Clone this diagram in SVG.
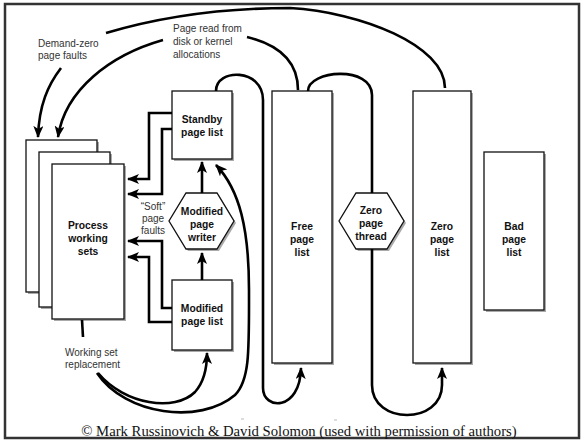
<svg xmlns="http://www.w3.org/2000/svg" width="582" height="441" viewBox="0 0 582 441">
<style>
.box{fill:#fff;stroke:#111;stroke-width:1.3}
.sh{fill:#aaa}
.lbl{font-family:"Liberation Sans",Arial,sans-serif;font-size:10.3px;font-weight:bold;fill:#111;text-anchor:middle}
.note{font-family:"Liberation Sans",Arial,sans-serif;font-size:10px;fill:#333}
.c{fill:none;stroke:#000;stroke-width:2.6}
.a{marker-end:url(#ah)}
</style>
<defs>
<marker id="ah" viewBox="0 0 12 10" refX="11" refY="5" markerWidth="12" markerHeight="10" markerUnits="userSpaceOnUse" orient="auto">
<path d="M0,0 L12,5 L0,10 L3,5 z" fill="#000"/>
</marker>
</defs>
<rect x="0" y="0" width="582" height="441" fill="#fff"/>
<rect x="5" y="4" width="574" height="434" fill="none" stroke="#333" stroke-width="2.5"/>

<g id="process-working-sets">
<rect class="sh" x="28" y="142" width="71" height="152"/>
<rect class="box" x="26" y="140" width="71" height="152"/>
<rect class="sh" x="41" y="154" width="71" height="155"/>
<rect class="box" x="39" y="152" width="71" height="155"/>
<rect class="sh" x="54" y="166" width="72" height="155"/>
<rect class="box" x="52" y="164" width="72" height="155"/>
<text class="lbl" x="88" y="229">Process</text>
<text class="lbl" x="88" y="242">working</text>
<text class="lbl" x="88" y="255">sets</text>
</g>

<g id="standby-page-list">
<rect class="sh" x="174" y="93" width="60" height="68"/>
<rect class="box" x="172" y="91" width="60" height="68"/>
<text class="lbl" x="202" y="123">Standby</text>
<text class="lbl" x="202" y="136">page list</text>
</g>

<g id="modified-page-list">
<rect class="sh" x="174" y="282" width="60" height="70"/>
<rect class="box" x="172" y="280" width="60" height="70"/>
<text class="lbl" x="202" y="312">Modified</text>
<text class="lbl" x="202" y="325">page list</text>
</g>

<g id="modified-page-writer">
<polygon class="sh" points="188,195 219,195 236,223 219,251 188,251 171,223"/>
<polygon class="box" points="186,193 217,193 234,221 217,249 186,249 169,221"/>
<text class="lbl" x="202" y="215">Modified</text>
<text class="lbl" x="202" y="228">page</text>
<text class="lbl" x="202" y="241">writer</text>
</g>

<g id="free-page-list">
<rect class="sh" x="274" y="93" width="60" height="272"/>
<rect class="box" x="272" y="91" width="60" height="272"/>
<text class="lbl" x="302" y="230">Free</text>
<text class="lbl" x="302" y="243">page</text>
<text class="lbl" x="302" y="256">list</text>
</g>

<g id="zero-page-thread">
<polygon class="sh" points="358,195 389,195 406,223 389,251 358,251 341,223"/>
<polygon class="box" points="356,193 387,193 404,221 387,249 356,249 339,221"/>
<text class="lbl" x="371" y="214">Zero</text>
<text class="lbl" x="371" y="227">page</text>
<text class="lbl" x="371" y="240">thread</text>
</g>

<g id="zero-page-list">
<rect class="sh" x="415" y="93" width="58" height="272"/>
<rect class="box" x="413" y="91" width="58" height="272"/>
<text class="lbl" x="442" y="230">Zero</text>
<text class="lbl" x="442" y="243">page</text>
<text class="lbl" x="442" y="256">list</text>
</g>

<g id="bad-page-list">
<rect class="sh" x="486" y="154" width="60" height="158"/>
<rect class="box" x="484" y="152" width="60" height="158"/>
<text class="lbl" x="514" y="230">Bad</text>
<text class="lbl" x="514" y="243">page</text>
<text class="lbl" x="514" y="256">list</text>
</g>

<g id="connectors">
<path class="c" d="M106,33 Q190,8 290,8 C360,12 445,45 445,88"/>
<path class="c a" d="M61,68 C48,85 39,105 38,137"/>
<path class="c" d="M247,37 C280,45 298,62 298,90"/>
<path class="c a" d="M163,40 C110,55 65,90 58,137"/>
<path class="c a" d="M216,91 C216,68 263,68 263,100 L263,388 C263,410 300,412 301,368"/>
<path class="c" d="M308,91 C308,70 372,65 372,95 L372,193"/>
<path class="c a" d="M372,249 L372,385 C372,425 442,425 442,385 L442,368"/>
<path class="c a" d="M202,280 L202,253"/>
<path class="c a" d="M202,193 L202,162"/>
<path class="c a" d="M172,113 L149,113 L149,179 L128,179"/>
<path class="c a" d="M172,129 L162,129 L162,194 L128,194"/>
<path class="c a" d="M172,308 L162,308 L162,241 L128,241"/>
<path class="c a" d="M172,322 L149,322 L149,257 L128,257"/>
<path class="c" d="M82,320 L83,337"/>
<path class="c a" d="M98,373 C125,405 175,412 195,392 C204,382 207,370 207,353"/>
<path class="c a" d="M97,373 C125,415 200,425 235,395 C250,380 249,350 249,290 C249,230 240,190 216,165"/>
<path d="M241,419 L244,419 M334,420 L337,420" stroke="#bbb" stroke-width="1"/>
</g>

<g id="labels">
<text class="note" x="38" y="47">Demand-zero</text>
<text class="note" x="38" y="59">page faults</text>
<text class="note" x="173" y="32">Page read from</text>
<text class="note" x="173" y="45">disk or kernel</text>
<text class="note" x="173" y="58">allocations</text>
<text class="note" x="153" y="210" text-anchor="middle">“Soft”</text>
<text class="note" x="153" y="222" text-anchor="middle">page</text>
<text class="note" x="153" y="234" text-anchor="middle">faults</text>
<text class="note" x="65" y="356">Working set</text>
<text class="note" x="65" y="368">replacement</text>
<text x="299" y="436" font-family="'Liberation Serif','Times New Roman',serif" font-size="14.7" fill="#111" text-anchor="middle">© Mark Russinovich &amp; David Solomon (used with permission of authors)</text>
</g>
</svg>
